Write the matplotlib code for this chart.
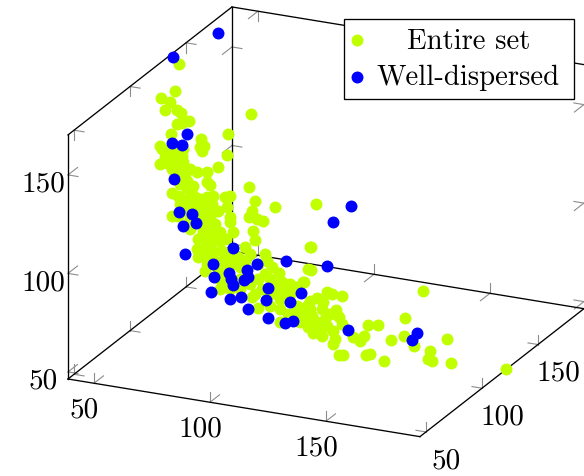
import matplotlib
matplotlib.use("Agg")
import matplotlib.pyplot as plt
from matplotlib.offsetbox import DrawingArea
import numpy as np

# Scatter data, in projected (screen) coordinates
entire_set = [
(179,65),(175,92),(161,99),(170,103),(165,111),(177,111),(181,114),(189,122),(177,125),(182,124),
(171,135),(251,115),(228,135),(201,140),(204,147),(200,148),(202,152),(227,156),(160,147),(162,150),
(167,152),(172,148),(177,157),(182,157),(173,163),(182,165),(183,163),(167,164),(218,168),(197,173),(207,173),
(185,175),(207,183),(210,186),(187,182),(193,187),(172,194),(178,197),(192,195),(195,198),(207,198),
(213,197),(225,198),(230,197),(249,188),(255,202),(227,208),(218,212),(210,213),(202,208),(197,207),
(187,212),(178,217),(252,212),(250,217),(230,218),(210,218),(275,208),(249,218),(257,220),(263,222),
(253,232),(255,241),(245,248),(265,255),(267,262),(245,262),(265,275),(279,274),(282,283),(303,283),
(297,288),(310,248),(308,270),(252,298),(258,309),(270,307),(280,300),(287,300),(297,310),(307,307),
(280,323),(316,205),(311,248),(311,271),(304,283),(327,293),(332,295),(342,297),(423,292),(310,302),
(317,299),(323,303),(322,310),(310,310),(336,311),(339,318),(297,307),(312,317),(300,323),(308,328),
(313,334),(322,328),(322,337),(327,327),(333,332),(342,325),(335,340),(333,345),(339,356),(343,356),
(353,338),(360,342),(364,337),(368,326),(378,326),(391,341),(405,319),(404,337),(414,347),(430,352),
(428,360),(432,362),(447,340),(451,364),(366,356),(370,355),(384,362),(506,370),
(172,217),(190,230),(203,233),(213,233),(220,233),(230,223),(233,233),(197,250),(198,258),(207,265),
(220,280),(225,282),(190,220),(198,222),(205,225),(215,225),(185,205),(192,205),(200,215),(208,228),
(198,240),(205,240),(212,242),(220,242),(226,240),(205,250),(213,252),(222,252),(230,258),(207,258),
(215,262),(222,262),(232,265),(240,268),(218,270),(225,272),(238,258),(205,272),(220,290),(230,290),
(240,290),(250,285),(258,280),(240,280),(262,290),(255,295),(270,295),(275,285),(285,290),(290,295),
(280,310),(288,315),(295,318),(300,315),(305,320),(315,322),(318,330),(325,320),(330,315),(290,285),
(272,268),(250,255),(258,265),(270,280),(278,292),(187,190),(180,185),(175,175),(178,170),(190,170),
(165,158),(170,155),(160,165),(172,170),(183,150),(188,200),(200,200),(212,205),(180,205),(195,215),
]
well_dispersed = [
(218,34),(173,58),(187,135),(172,144),(182,146),(174,180),(179,213),(192,215),(183,227),(196,224),
(185,255),(233,249),(286,262),(257,265),(213,265),(247,271),(214,278),(229,274),(231,280),(233,286),
(244,281),(248,278),(211,293),(230,300),(241,298),(268,289),(266,301),(248,310),(301,294),(290,303),
(268,319),(285,324),(293,322),(351,207),(333,223),(327,267),(348,331),(417,334),(412,341),
]
tick_values = [50, 100, 150]
entry_labels = ["Entire set", "Well-dispersed"]

LIME = "#BFFF00"
BLUE = "#0000FF"
GRAY = "#8c8c8c"

X0, Y0, Z0 = 38.8, 44.6, 46.4
X1, Y1, Z1 = 190.5, 191.0, 170.3
ORIGIN = np.array([68.0, 380.0])
UX, UY, UZ = np.array([2.32, 0.38]), np.array([1.12, -0.874]), np.array([0.0, -1.97])


def proj(x, y, z):
    return ORIGIN + (x - X0) * UX + (y - Y0) * UY + (z - Z0) * UZ


plt.rcParams["font.family"] = ["cmr10", "DejaVu Serif"]
plt.rcParams["axes.formatter.use_mathtext"] = True
fig = plt.figure(figsize=(5.84, 4.77), dpi=100)
ax = fig.add_axes([0, 0, 1, 1])
ax.set_xlim(0, 584)
ax.set_ylim(477, 0)
ax.axis("off")

edges = [
    ((X0, Y0, Z0), (X1, Y0, Z0)), ((X1, Y0, Z0), (X1, Y1, Z0)), ((X0, Y0, Z0), (X0, Y1, Z0)),
    ((X0, Y1, Z0), (X1, Y1, Z0)), ((X0, Y0, Z0), (X0, Y0, Z1)), ((X0, Y0, Z1), (X0, Y1, Z1)),
    ((X0, Y1, Z0), (X0, Y1, Z1)), ((X0, Y1, Z1), (X1, Y1, Z1)),
]
for a, b in edges:
    p, q = proj(*a), proj(*b)
    ax.plot([p[0], q[0]], [p[1], q[1]], color="black", lw=0.95, zorder=2, clip_on=False,
            solid_capstyle="projecting")

LEN_U, LEN_V, LEN_W = 4.3, 8.5, 5.0


def tick(point, *dirs):
    p = proj(*point)
    for d, n in dirs:
        q = p + d * n
        ax.plot([p[0], q[0]], [p[1], q[1]], color=GRAY, lw=0.8, zorder=1.5)


for t in tick_values:
    tick((t, Y0, Z0), (UZ, LEN_W), (UY, LEN_V))
    tick((t, Y1, Z0), (UZ, LEN_W), (-UY, LEN_V))
    tick((t, Y1, Z1), (-UZ, LEN_W), (-UY, LEN_V))
    tick((X0, t, Z0), (UZ, LEN_W), (UX, LEN_U))
    tick((X1, t, Z0), (UZ, LEN_W), (-UX, LEN_U))
    tick((X0, t, Z1), (-UZ, LEN_W), (UX, LEN_U))
    tick((X0, Y0, t), (UX, LEN_U), (UY, LEN_V))
    tick((X0, Y1, t), (UX, LEN_U), (-UY, LEN_V))
    tick((X1, Y1, t), (-UX, LEN_U), (-UY, LEN_V))

FS = 21
for t in tick_values:
    p = proj(t, Y0, Z0)
    ax.text(p[0] - 10, p[1] + 26, str(t), ha="center", va="center", fontsize=FS)
    p = proj(X1, t, Z0)
    ax.text(p[0] + 20, p[1] + 28, str(t), ha="center", va="center", fontsize=FS)
    p = proj(X0, Y0, t)
    ax.text(p[0] - 25, p[1] + 8.5, str(t), ha="center", va="center", fontsize=FS)

sc1 = ax.scatter(*zip(*entire_set), s=74, color=LIME, linewidths=0, zorder=3, label=entry_labels[0])
sc2 = ax.scatter(*zip(*well_dispersed), s=74, color=BLUE, linewidths=0, zorder=4, label=entry_labels[1])

leg = ax.legend(handles=[sc1, sc2], loc="upper left", bbox_to_anchor=(344 / 584, 1 - 20 / 477),
                borderaxespad=0, fontsize=20.7, frameon=True, fancybox=False, framealpha=1,
                edgecolor="black", borderpad=0.3, labelspacing=0.34, handletextpad=0.53,
                handlelength=0.3, columnspacing=0)
leg.get_frame().set_linewidth(0.95)
leg.set_zorder(6)
columns = leg._legend_handle_box.get_children()
row0 = columns[0].get_children()[0]
row0.sep = row0.sep + 22
columns.append(DrawingArea(3.8, 1))

fig.savefig("out.png", dpi=100)
